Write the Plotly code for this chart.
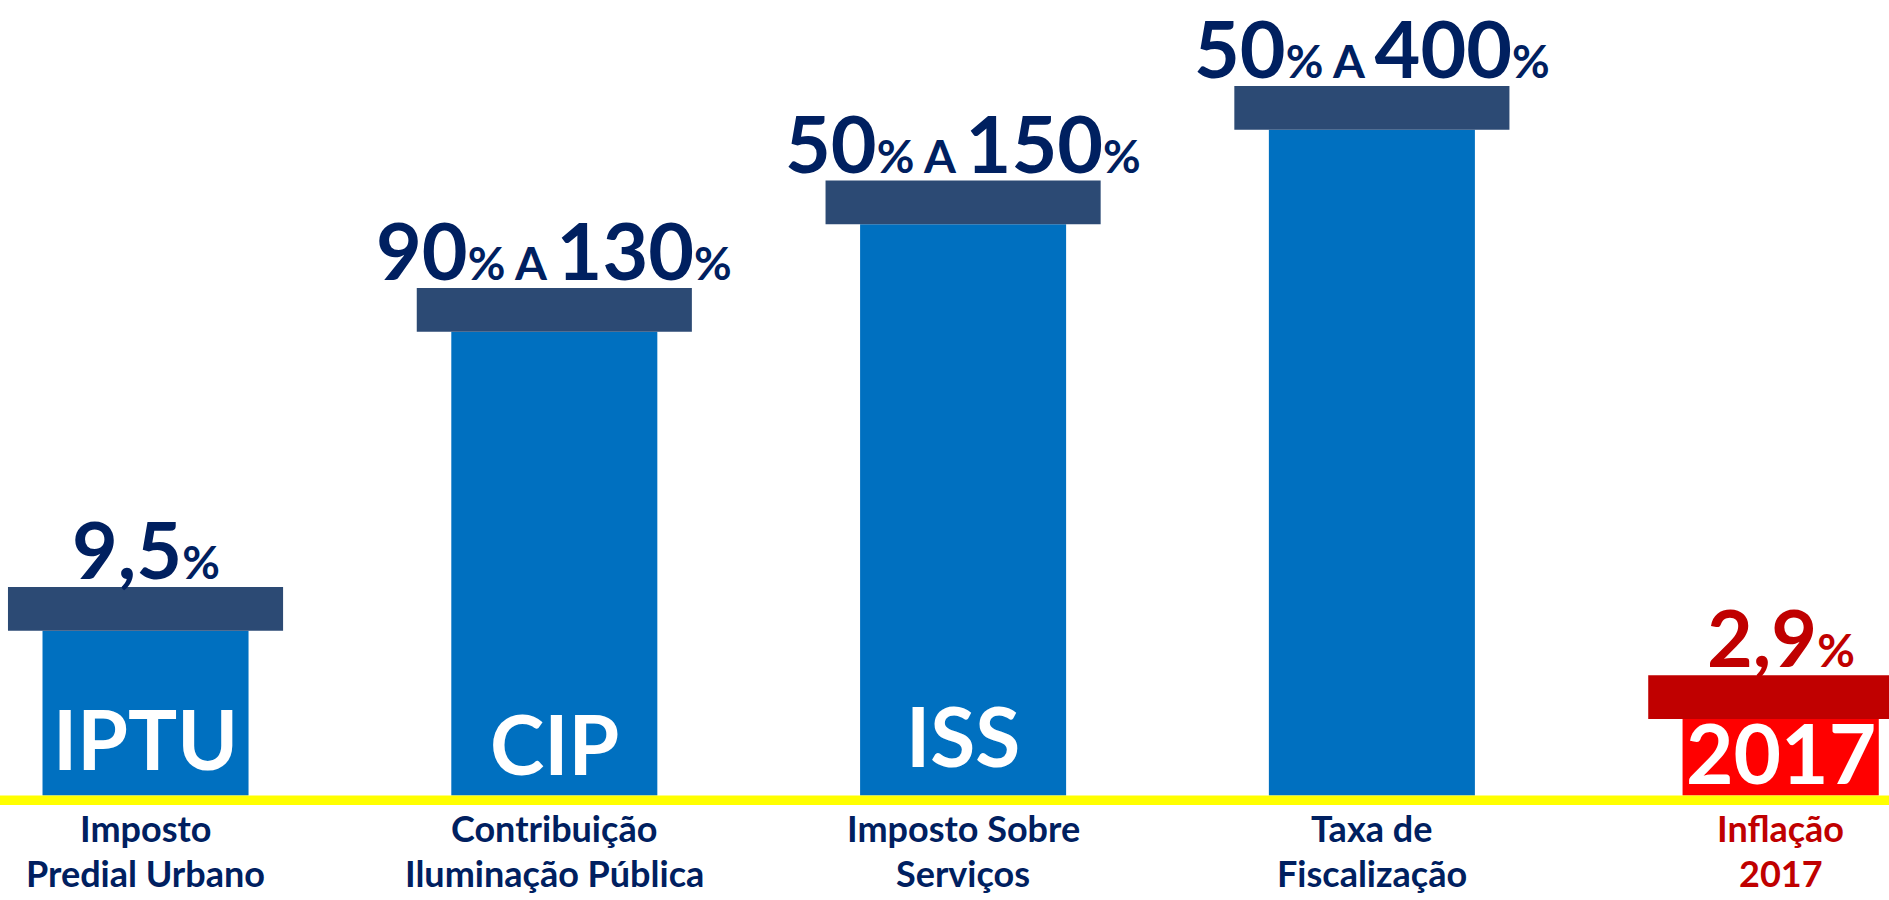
import plotly.graph_objects as go

# categorias e valores
siglas = ["IPTU", "CIP", "ISS", "", "2017"]
legenda_l1 = ["Imposto", "Contribuição", "Imposto Sobre", "Taxa de", "Inflação"]
legenda_l2 = ["Predial Urbano", "Iluminação Pública", "Serviços", "Fiscalização", "2017"]
faixa_min = ["9,5", "90", "50", "50", "2,9"]
faixa_max = ["", "130", "150", "400", ""]
# altura visual das colunas (escala 0-100 do desenho)
alturas = [20.7, 58.3, 71.8, 83.7, 9.6]
tampa = [5.5, 5.5, 5.5, 5.5, 5.5]

AZUL = "#0070C0"
TAMPA_AZUL = "#2C4A74"
NAVY = "#002060"
VERMELHO = "#FF0000"
TAMPA_VERM = "#C00000"
FONTE = "Lato"

x = list(range(len(siglas)))
cor_barra = [AZUL] * 4 + [VERMELHO]
cor_tampa = [TAMPA_AZUL] * 4 + [TAMPA_VERM]
cor_texto = [NAVY] * 4 + [TAMPA_VERM]
sigla_y = [7.25, 6.6, 7.6, 0, 5.5]

fig = go.Figure()
fig.add_trace(go.Bar(x=x, y=alturas, marker=dict(color=cor_barra, line_width=0),
                     width=[0.504] * 4 + [0.48], hoverinfo="skip"))
fig.add_trace(go.Bar(x=x, y=tampa, base=alturas, marker=dict(color=cor_tampa, line_width=0),
                     width=[0.673] * 4 + [0.648], hoverinfo="skip"))

pct = '<span style="font-size:46px">%</span>'
for i in x:
    if faixa_max[i]:
        txt = f'{faixa_min[i]}{pct}<span style="font-size:46px"> A </span>{faixa_max[i]}{pct}'
    else:
        txt = f"{faixa_min[i]}{pct}"
    fig.add_annotation(x=i, y=alturas[i] + tampa[i], yanchor="bottom", yshift=-11,
                       text=f"<b>{txt}</b>", showarrow=False,
                       font=dict(family=FONTE, size=79, color=cor_texto[i]))
    if siglas[i]:
        fig.add_annotation(x=i, y=sigla_y[i], yanchor="middle", text=f"<b>{siglas[i]}</b>",
                           showarrow=False, font=dict(family=FONTE, size=82, color="white"))
    # legendas abaixo da faixa amarela (fora da area do grafico -> yref paper)
    fig.add_annotation(x=i, yref="paper", y=-0.029, yanchor="middle", text=f"<b>{legenda_l1[i]}</b>",
                       showarrow=False, font=dict(family=FONTE, size=36, color=cor_texto[i]))
    fig.add_annotation(x=i, yref="paper", y=-0.084, yanchor="middle", text=f"<b>{legenda_l2[i]}</b>",
                       showarrow=False, font=dict(family=FONTE, size=36, color=cor_texto[i]))

# faixa amarela da base
fig.add_shape(type="rect", xref="paper", yref="y", x0=0, x1=1, y0=-1.2, y1=0,
              fillcolor="#FFFF00", line_width=0, layer="above")

fig.update_layout(
    width=1889, height=900, barmode="overlay", showlegend=False,
    margin=dict(l=0, r=0, t=0, b=95),
    paper_bgcolor="white", plot_bgcolor="white",
    xaxis=dict(range=[-0.356, 4.265], visible=False, fixedrange=True),
    yaxis=dict(range=[-1.2, 100], visible=False, fixedrange=True),
)

fig.write_html("out.html", config={"displayModeBar": False},
               post_script="document.body.style.margin='0';")
